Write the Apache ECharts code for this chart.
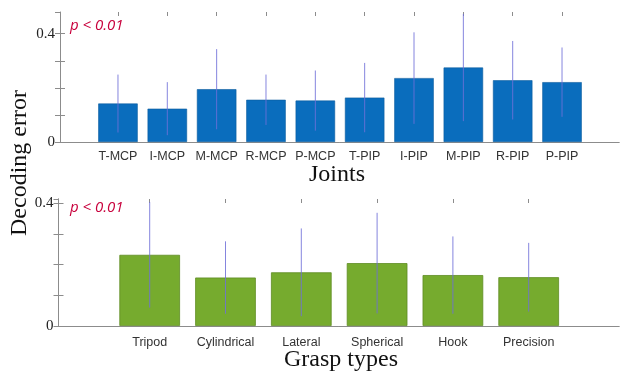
<!DOCTYPE html>
<html><head><meta charset="utf-8">
<script src="https://cdn.jsdelivr.net/npm/echarts@6/dist/echarts.min.js"></script>
<style>html,body{margin:0;padding:0;background:#fff}#c{width:620px;height:372px}</style>
</head><body><div id="c"></div>
<script>
// ---- data ----
const jointCats = ['T-MCP','I-MCP','M-MCP','R-MCP','P-MCP','T-PIP','I-PIP','M-PIP','R-PIP','P-PIP'];
const jointMeans = [0.142,0.123,0.195,0.156,0.153,0.164,0.236,0.275,0.228,0.221];
const jointSD    = [0.107,0.098,0.148,0.093,0.111,0.128,0.169,0.198,0.145,0.128];
const graspCats = ['Tripod','Cylindrical','Lateral','Spherical','Hook','Precision'];
const graspMeans = [0.232,0.158,0.175,0.205,0.166,0.159];
const graspSD    = [0.172,0.118,0.143,0.164,0.126,0.112];
const yLabelValues = [0, 0.4];
const pText = 'p < 0.01';

const chart = echarts.init(document.getElementById('c'), null, {renderer:'canvas'});
const gray = '#8c8c8c';
const serif = '"Liberation Serif","DejaVu Serif",serif';
const sans = '"Liberation Sans",Arial,sans-serif';

function yFmt(v){
  for (const t of yLabelValues){ if (Math.abs(v - t) < 1e-9) return String(t); }
  return '';
}
function errItem(params, api){
  const x = api.value(0);
  const lo = api.coord([x, api.value(1)]);
  const hi = api.coord([x, api.value(2)]);
  return {type:'line', shape:{x1:lo[0],y1:lo[1],x2:hi[0],y2:hi[1]},
          style:{stroke:'#7070d8', lineWidth:1, opacity:0.85}};
}
function frameX(grid, pos){
  return {type:'value', gridIndex:grid, position:pos, min:0, max:1,
    axisLine:{show:true, lineStyle:{color:gray,width:1}}, axisTick:{show:false},
    axisLabel:{show:false}, splitLine:{show:false}};
}
function catX(grid, cats, pos, margin){
  const isTop = pos === 'top';
  return {type:'category', gridIndex:grid, position:pos, data:cats, boundaryGap:true,
    axisLine:{show:false},
    axisTick:{show:isTop, inside:true, alignWithLabel:true, length:4, lineStyle:{color:gray}},
    axisLabel:{show:!isTop, margin:margin, color:'#333', fontFamily:sans, fontSize:12.5, interval:0},
    splitLine:{show:false}};
}
function frameY(grid, pos, max, showLine, labels){
  return {type:'value', gridIndex:grid, position:pos, min:0, max:max, interval:0.1,
    axisLine:{show:showLine, lineStyle:{color:gray,width:1}},
    axisTick:{show:true, inside:true, length:5, lineStyle:{color:gray}},
    axisLabel:{show:labels, formatter:yFmt, color:'#222', fontFamily:serif, fontSize:15, margin:5,
      showMaxLabel:false},
    splitLine:{show:false}};
}
function hiddenY(grid, max){
  return {type:'value', gridIndex:grid, min:0, max:max, show:false, splitLine:{show:false}};
}
const topMax = 0.48, botMax = 0.414;

const option = {
  animation:false,
  backgroundColor:'#fff',
  grid:[
    {left:60, top:12, width:559, height:130},
    {left:93.3, top:12, width:493.4, height:130},
    {left:58.5, top:199, width:560.5, height:127},
    {left:111.8, top:199, width:454.8, height:127}
  ],
  xAxis:[
    frameX(0,'bottom'), frameX(0,'top'),
    catX(1, jointCats, 'bottom', 8), catX(1, jointCats, 'top', 0),
    frameX(2,'bottom'), frameX(2,'top'),
    catX(3, graspCats, 'bottom', 10), catX(3, graspCats, 'top', 0)
  ],
  yAxis:[
    frameY(0,'left',topMax,true,true), frameY(0,'right',topMax,false,false),
    hiddenY(1, topMax),
    frameY(2,'left',botMax,true,true), frameY(2,'right',botMax,true,false),
    hiddenY(3, botMax)
  ],
  series:[
    {type:'bar', xAxisIndex:2, yAxisIndex:2, data:jointMeans, barCategoryGap:'20%',
     itemStyle:{color:'#0a6dbd', borderColor:'#0b5d9e', borderWidth:0.6}},
    {type:'custom', xAxisIndex:2, yAxisIndex:2, renderItem:errItem, encode:{x:0,y:[1,2]},
     data:jointMeans.map((m,i)=>[i, m-jointSD[i], m+jointSD[i]]), z:5},
    {type:'bar', xAxisIndex:6, yAxisIndex:5, data:graspMeans, barCategoryGap:'20%',
     itemStyle:{color:'#76ab2e', borderColor:'#5e8c22', borderWidth:0.8}},
    {type:'custom', xAxisIndex:6, yAxisIndex:5, renderItem:errItem, encode:{x:0,y:[1,2]},
     data:graspMeans.map((m,i)=>[i, m-graspSD[i], m+graspSD[i]]), z:5}
  ],
  graphic:[
    {type:'text', left:70, top:18, style:{text:pText, fill:'#c8003c', font:'italic 15px "Open Sans", "Noto Sans", sans-serif'}},
    {type:'text', left:70, top:200, style:{text:pText, fill:'#c8003c', font:'italic 15px "Open Sans", "Noto Sans", sans-serif'}},
    {type:'text', x:337, y:175, style:{text:'Joints', fill:'#111', font:'24px '+serif, textAlign:'center', textVerticalAlign:'middle'}},
    {type:'text', x:341, y:360, style:{text:'Grasp types', fill:'#111', font:'24px '+serif, textAlign:'center', textVerticalAlign:'middle'}},
    {type:'text', x:20, y:163, rotation:Math.PI/2, style:{text:'Decoding error', fill:'#111', font:'24px '+serif, textAlign:'center', textVerticalAlign:'middle'}}
  ]
};
chart.setOption(option);
</script>
</body></html>
